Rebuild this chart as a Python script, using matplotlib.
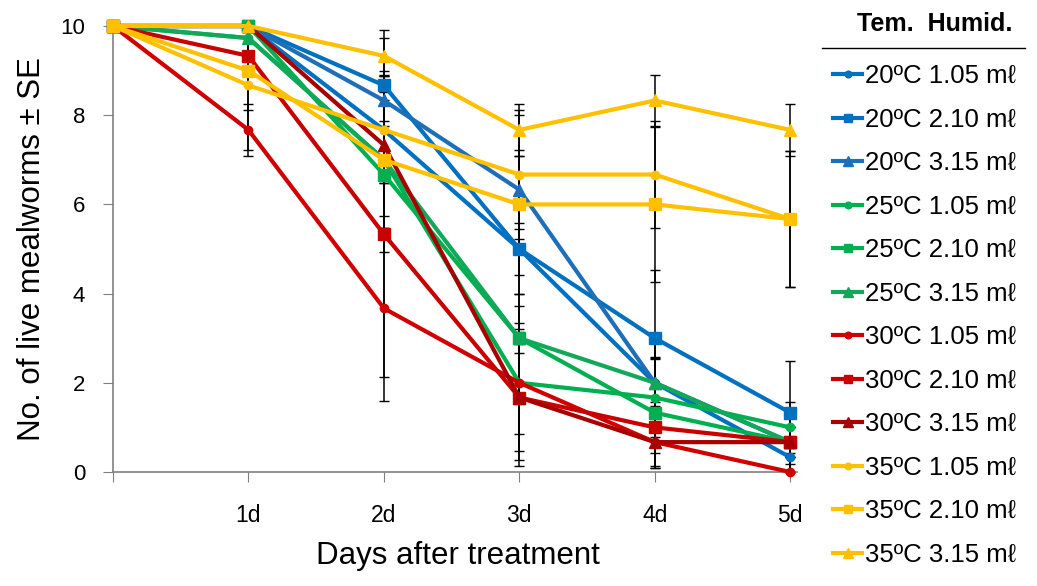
import matplotlib
matplotlib.use('Agg')
import matplotlib.pyplot as plt
from matplotlib.lines import Line2D
import numpy as np

plt.rcParams['font.family'] = ['Liberation Sans', 'DejaVu Sans']

days = [0, 1, 2, 3, 4, 5]
day_labels = ['', '1d', '2d', '3d', '4d', '5d']

labels = ['20ºC 1.05 mℓ', '20ºC 2.10 mℓ', '20ºC 3.15 mℓ',
          '25ºC 1.05 mℓ', '25ºC 2.10 mℓ', '25ºC 3.15 mℓ',
          '30ºC 1.05 mℓ', '30ºC 2.10 mℓ', '30ºC 3.15 mℓ',
          '35ºC 1.05 mℓ', '35ºC 2.10 mℓ', '35ºC 3.15 mℓ']

# mean number of live mealworms
t20_105 = [10, 10, 7.67, 5.0, 2.0, 0.33]
t20_210 = [10, 10, 8.67, 5.0, 3.0, 1.33]
t20_315 = [10, 10, 8.33, 6.33, 2.0, 0.67]
t25_105 = [10, 9.73, 7.0, 2.0, 1.67, 1.0]
t25_210 = [10, 10, 6.67, 3.0, 1.33, 0.67]
t25_315 = [10, 9.73, 7.0, 3.0, 2.0, 0.67]
t30_105 = [10, 7.67, 3.67, 2.0, 0.67, 0.0]
t30_210 = [10, 9.33, 5.33, 1.67, 1.0, 0.67]
t30_315 = [10, 10, 7.33, 1.67, 0.67, 0.67]
t35_105 = [10, 8.67, 7.67, 6.67, 6.67, 5.67]
t35_210 = [10, 9.0, 7.0, 6.0, 6.0, 5.67]
t35_315 = [10, 10, 9.33, 7.67, 8.33, 7.67]

# standard errors
se20_105 = [0, 0, 1.2, 2.08, 1.0, 0.33]
se20_210 = [0, 0, 0.33, 0.58, 1.53, 1.15]
se20_315 = [0, 0, 0.58, 0.88, 1.0, 0.67]
se25_105 = [0, 0.33, 1.53, 1.15, 0.88, 0.58]
se25_210 = [0, 0, 1.2, 0.33, 1.2, 0.33]
se25_315 = [0, 0.33, 1.73, 1.0, 0.58, 0.33]
se30_105 = [0, 0.58, 2.08, 1.73, 0.58, 0]
se30_210 = [0, 0.33, 3.21, 1.53, 0.58, 0.33]
se30_315 = [0, 0, 2.4, 1.2, 0.58, 0.67]
se35_105 = [0, 1.45, 1.2, 1.45, 1.2, 1.53]
se35_210 = [0, 0.88, 1.73, 2.0, 1.73, 1.53]
se35_315 = [0, 0, 0.58, 0.58, 0.58, 0.58]

means = [t20_105, t20_210, t20_315, t25_105, t25_210, t25_315,
         t30_105, t30_210, t30_315, t35_105, t35_210, t35_315]
ses = [se20_105, se20_210, se20_315, se25_105, se25_210, se25_315,
       se30_105, se30_210, se30_315, se35_105, se35_210, se35_315]

colors = ['#0070C0', '#0070C0', '#1F6EB8',
          '#00B050', '#00B050', '#12A85A',
          '#D00000', '#C80000', '#A80000',
          '#FFC000', '#FFC000', '#FFC000']
markers = ['o', 's', '^'] * 4
msizes = {'o': 6, 's': 8, '^': 9}

fig = plt.figure(figsize=(10.37, 5.86), dpi=100)
ax = fig.add_axes([113 / 1037, 114 / 586, 684 / 1037, 446 / 586])

for m, s in zip(means, ses):
    ax.errorbar(days, m, yerr=s, fmt='none', ecolor='black', elinewidth=1.1,
                capsize=3.5, capthick=1.0, zorder=1, clip_on=False)

handles = []
for m, c, mk, lab in zip(means, colors, markers, labels):
    ax.plot(days, m, color=c, lw=3, marker=mk, ms=msizes[mk],
            markeredgecolor=c, zorder=3, clip_on=False, label=lab)
    handles.append(Line2D([], [], color=c, lw=3, marker=mk,
                          ms=msizes[mk] * 0.8, markeredgecolor=c))

ax.set_xlim(0, 5.05)
ax.set_ylim(0, 10)
ax.set_xticks(days)
ax.set_xticklabels(day_labels)
ax.set_yticks([0, 2, 4, 6, 8, 10])
for side in ['top', 'right']:
    ax.spines[side].set_visible(False)
for side in ['left', 'bottom']:
    ax.spines[side].set_color('#808080')
    ax.spines[side].set_linewidth(1.2)
ax.tick_params(axis='y', length=7, color='#808080', labelsize=16, pad=13)
ax.tick_params(axis='x', length=7, color='#808080', labelsize=16.5, pad=16)

fig.text(32 / 1037, 1 - 249 / 586, 'No. of live mealworms ± SE', rotation=90,
         ha='center', va='center', fontsize=22.5)
fig.text(458 / 1037, 1 - 556 / 586, 'Days after treatment',
         ha='center', va='center', fontsize=22.5)

# legend header
fig.text(1012 / 1037, 1 - 24 / 586, 'Tem.  Humid.', ha='right', va='center',
         fontsize=18, fontweight='bold')
fig.add_artist(Line2D([822 / 1037, 1025 / 1037], [1 - 48 / 586, 1 - 48 / 586],
                      color='black', lw=1.0))

fig.legend(handles, labels, loc='upper left',
           bbox_to_anchor=(833 / 1037, 1 - 64 / 586), frameon=False,
           fontsize=18.5, handlelength=1.13, handletextpad=0.12,
           labelspacing=0.76, borderaxespad=0, borderpad=0)

fig.savefig('out.png', dpi=100)
